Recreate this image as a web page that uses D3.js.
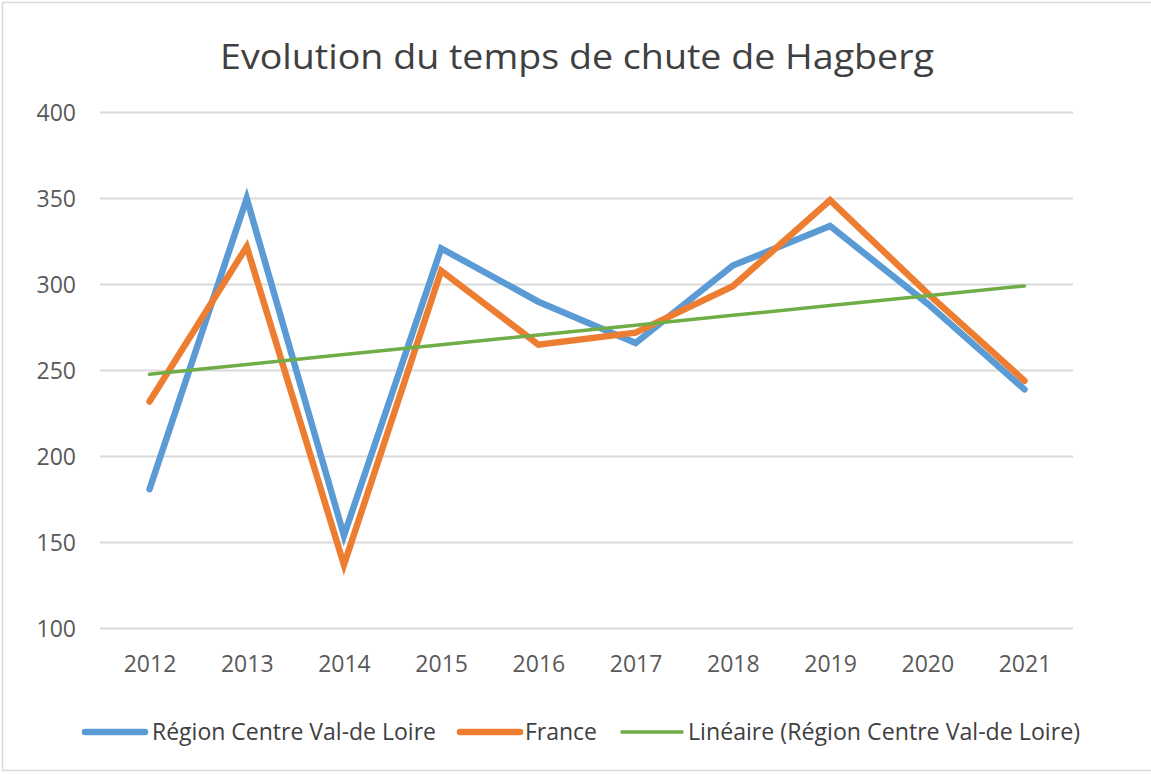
<!DOCTYPE html>
<html>
<head>
<meta charset="utf-8">
<script src="https://cdn.jsdelivr.net/npm/d3@7"></script>
<style>
  body { margin: 0; background: #fff; }
  svg { display: block; }
</style>
</head>
<body>
<div id="chart"></div>
<script>
// chart data
const years = ['2012', '2013', '2014', '2015', '2016', '2017', '2018', '2019', '2020', '2021'];
const region = [181, 350, 154, 321, 290, 266, 311, 334, 289, 239];
const france = [232, 322, 137, 308, 265, 272, 299, 349, 295, 244];
const yTicks = [100, 150, 200, 250, 300, 350, 400];
const seriesNames = ['Région Centre Val-de Loire', 'France', 'Linéaire (Région Centre Val-de Loire)'];

const width = 1151;
const height = 774;

// least squares trend of the region series (what Excel's linear trendline does)
function linearFit(vals) {
  const n = vals.length;
  const mx = (n - 1) / 2;
  const my = d3.mean(vals);
  let num = 0, den = 0;
  vals.forEach((v, i) => { num += (i - mx) * (v - my); den += (i - mx) * (i - mx); });
  const slope = num / den;
  return vals.map((v, i) => my + slope * (i - mx));
}
const trend = linearFit(region);

const svg = d3.select('#chart')
  .append('svg')
  .attr('width', width)
  .attr('height', height);

// outer frame, right edge is cut off in the reference
svg.append('rect')
  .attr('x', 2.5).attr('y', 2.5)
  .attr('width', width + 10).attr('height', 768)
  .attr('fill', '#fff')
  .attr('stroke', '#d9d9d9')
  .attr('stroke-width', 1.5);

const x = d3.scalePoint()
  .domain(years)
  .range([149.5, 1024.5]);

const y = d3.scaleLinear()
  .domain([100, 400])
  .range([628.5, 112.5]);

// gridlines
svg.append('g')
  .selectAll('line')
  .data(yTicks)
  .enter()
  .append('line')
  .attr('x1', 100).attr('x2', 1073)
  .attr('y1', d => y(d)).attr('y2', d => y(d))
  .attr('stroke', '#d9d9d9')
  .attr('stroke-width', 2);

// y axis labels
const yAxis = d3.axisLeft(y).tickValues(yTicks).tickSize(0).tickPadding(0);
const gy = svg.append('g')
  .attr('transform', 'translate(76,0)')
  .call(yAxis);
gy.select('.domain').remove();
gy.selectAll('text')
  .attr('fill', '#595959')
  .attr('dy', '0.36em')
  .style('font-family', '"Open Sans", sans-serif')
  .style('font-size', '23px');

// x axis labels
const xAxis = d3.axisBottom(x).tickSize(0).tickPadding(0);
const gx = svg.append('g')
  .attr('transform', 'translate(0,656)')
  .call(xAxis);
gx.select('.domain').remove();
gx.selectAll('text')
  .attr('fill', '#595959')
  .attr('dy', '0.71em')
  .style('font-family', '"Open Sans", sans-serif')
  .style('font-size', '23px');

const line = d3.line()
  .x((d, i) => x(years[i]))
  .y(d => y(d));

svg.append('path')
  .datum(region)
  .attr('d', line)
  .attr('fill', 'none')
  .attr('stroke', '#5b9bd5')
  .attr('stroke-width', 6.5)
  .attr('stroke-linecap', 'round')
  .attr('stroke-linejoin', 'miter');

svg.append('path')
  .datum(france)
  .attr('d', line)
  .attr('fill', 'none')
  .attr('stroke', '#ed7d31')
  .attr('stroke-width', 6.5)
  .attr('stroke-linecap', 'round')
  .attr('stroke-linejoin', 'miter');

svg.append('path')
  .datum(trend)
  .attr('d', line)
  .attr('fill', 'none')
  .attr('stroke', '#70ad47')
  .attr('stroke-width', 3.5)
  .attr('stroke-linecap', 'round');

// title
svg.append('text')
  .attr('x', 577)
  .attr('y', 69)
  .attr('text-anchor', 'middle')
  .attr('fill', '#404040')
  .attr('textLength', 714)
  .attr('lengthAdjust', 'spacingAndGlyphs')
  .style('font-family', '"Open Sans", sans-serif')
  .style('font-size', '34px')
  .text('Evolution du temps de chute de Hagberg');

// legend
const legendItems = [
  { name: seriesNames[0], color: '#5b9bd5', w: 6.5, x0: 85, tx: 152, tl: 284 },
  { name: seriesNames[1], color: '#ed7d31', w: 6.5, x0: 460, tx: 525, tl: 72 },
  { name: seriesNames[2], color: '#70ad47', w: 3.5, x0: 622, tx: 688, tl: 392 }
];
const lg = svg.append('g').selectAll('g')
  .data(legendItems)
  .enter()
  .append('g');
lg.append('line')
  .attr('x1', d => d.x0).attr('x2', d => d.x0 + 60)
  .attr('y1', 732).attr('y2', 732)
  .attr('stroke', d => d.color)
  .attr('stroke-width', d => d.w)
  .attr('stroke-linecap', 'round');
lg.append('text')
  .attr('x', d => d.tx)
  .attr('y', 740)
  .attr('fill', '#404040')
  .attr('textLength', d => d.tl)
  .attr('lengthAdjust', 'spacingAndGlyphs')
  .style('font-family', '"Open Sans", sans-serif')
  .style('font-size', '23px')
  .text(d => d.name);
</script>
</body>
</html>
